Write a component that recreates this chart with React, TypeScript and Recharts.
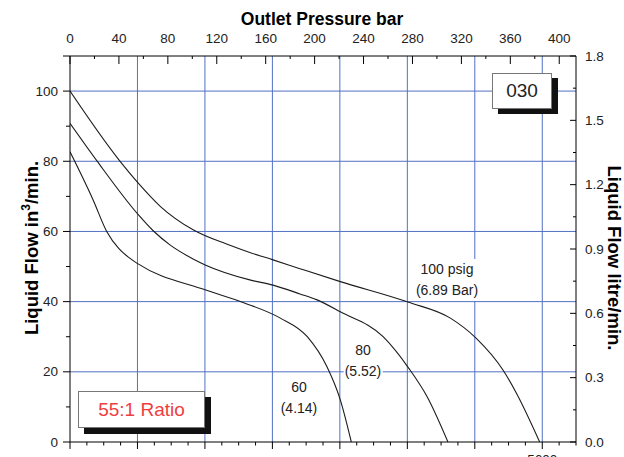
import React from "react";
import { ComposedChart, Line, XAxis, YAxis, ReferenceLine } from "recharts";

const FONT = "'Liberation Sans', Arial, Helvetica, sans-serif";
const W = 624;
const H = 457;
const PLOT = { left: 70, right: 576, top: 56, bottom: 442 };

// axis ticks
const barTicks = [0, 20, 40, 60, 80, 100, 120, 140, 160, 180, 200, 220, 240, 260, 280, 300, 320, 340, 360, 380, 400];
const barLabels = [0, 40, 80, 120, 160, 200, 240, 280, 320, 360, 400];
const psiTicks = [0, 200, 400, 600, 800, 1000, 1200, 1400, 1600, 1800, 2000, 2200, 2400, 2600, 2800, 3000, 3200, 3400, 3600, 3800, 4000, 4200, 4400, 4600, 4800, 5000, 5200, 5400, 5600, 5800, 6000];
const psiGrid = [800, 1600, 2400, 3200, 4000, 4800, 5600];
const psiLabels = [5600];
const flowTicks = [0, 10, 20, 30, 40, 50, 60, 70, 80, 90, 100, 110];
const flowLabels = [0, 20, 40, 60, 80, 100];
const flowGrid = [20, 40, 60, 80, 100];
const litreTicks = [0, 0.15, 0.3, 0.45, 0.6, 0.75, 0.9, 1.05, 1.2, 1.35, 1.5, 1.65, 1.8];
const litreLabels = [0, 0.3, 0.6, 0.9, 1.2, 1.5, 1.8];

// curves: p = outlet pressure (bar), q = liquid flow (in3/min)
const psig100 = [
  { p: 0, q: 100 }, { p: 40, q: 80.4 }, { p: 56, q: 73.7 }, { p: 74, q: 67.1 },
  { p: 101, q: 60.4 }, { p: 128, q: 56.4 }, { p: 147, q: 54.0 }, { p: 166, q: 51.9 },
  { p: 188, q: 49.4 }, { p: 221, q: 45.7 }, { p: 277, q: 39.8 }, { p: 311, q: 35.3 },
  { p: 332, q: 29.6 }, { p: 354, q: 20.5 }, { p: 365, q: 13.9 }, { p: 384, q: 0 },
];
const psig80 = [
  { p: 0, q: 90.8 }, { p: 22, q: 80.1 }, { p: 56, q: 64.7 }, { p: 68, q: 60.2 },
  { p: 82, q: 56.1 }, { p: 101, q: 52.1 }, { p: 111, q: 50.4 }, { p: 147, q: 46.2 },
  { p: 166, q: 44.7 }, { p: 188, q: 42.2 }, { p: 202, q: 40.5 }, { p: 221, q: 37.1 },
  { p: 256, q: 30.0 }, { p: 277, q: 21.0 }, { p: 292, q: 12.9 }, { p: 309, q: 0 },
];
const psig60 = [
  { p: 0, q: 82.7 }, { p: 19, q: 68.9 }, { p: 30, q: 60.0 }, { p: 40, q: 55.1 },
  { p: 48, q: 52.6 }, { p: 55, q: 50.9 }, { p: 111, q: 43.3 }, { p: 142, q: 39.7 },
  { p: 172, q: 35.3 }, { p: 194, q: 30.0 }, { p: 210, q: 21.5 }, { p: 221, q: 12.0 },
  { p: 230, q: 0 },
];

// same 100 psig curve in psi / litre per min, only used to give the second axes a scale
const psig100Metric = psig100.map((d) => ({ psi: d.p * 14.5038, lpm: d.q * 0.016387 }));

const GRID = "#5271c4";
const TICK_TXT = { fontFamily: FONT, fontSize: 13.5, fill: "#222" };

const TopTick = (props: any) => {
  const { x, payload } = props;
  const major = barLabels.includes(payload.value);
  return (
    <g>
      <line x1={x} x2={x} y1={PLOT.top} y2={PLOT.top + (major ? 8 : 3)} stroke="#000" />
      {major && (
        <text x={x} y={43} textAnchor="middle" {...TICK_TXT}>
          {payload.value}
        </text>
      )}
    </g>
  );
};

const BottomTick = (props: any) => {
  const { x, payload } = props;
  const major = payload.value % 800 === 0;
  return (
    <g>
      <line x1={x} x2={x} y1={PLOT.bottom} y2={PLOT.bottom + (major ? 7 : 3.5)} stroke="#000" />
      {psiLabels.includes(payload.value) && (
        <text x={x} y={464} textAnchor="middle" {...TICK_TXT}>
          {payload.value}
        </text>
      )}
    </g>
  );
};

const LeftTick = (props: any) => {
  const { y, payload } = props;
  const major = flowLabels.includes(payload.value) || payload.value === 110;
  return (
    <g>
      <line x1={PLOT.left - (major ? 7 : 4)} x2={PLOT.left} y1={y} y2={y} stroke="#000" />
      {flowLabels.includes(payload.value) && (
        <text x={58} y={y} textAnchor="end" dominantBaseline="central" {...TICK_TXT}>
          {payload.value}
        </text>
      )}
    </g>
  );
};

const RightTick = (props: any) => {
  const { y, payload } = props;
  const major = litreLabels.includes(payload.value);
  return (
    <g>
      <line x1={PLOT.right - (major ? 6 : 3)} x2={PLOT.right} y1={y} y2={y} stroke="#000" />
      {major && (
        <text x={585} y={y} textAnchor="start" dominantBaseline="central" {...TICK_TXT}>
          {payload.value.toFixed(1)}
        </text>
      )}
    </g>
  );
};

const abs = (s: React.CSSProperties): React.CSSProperties => ({ position: "absolute", ...s });

export default function App() {
  return (
    <div style={{ position: "absolute", left: 0, top: 0, width: W, height: H, background: "#fff", fontFamily: FONT }}>
      <ComposedChart width={W} height={H} margin={{ top: 0, right: 0, bottom: 0, left: 0 }}>
        <XAxis
          xAxisId="bar"
          orientation="top"
          type="number"
          dataKey="p"
          domain={[0, 413.7]}
          allowDataOverflow
          ticks={barTicks}
          interval={0}
          height={PLOT.top}
          axisLine={{ stroke: "#000" }}
          tickLine={false}
          tick={<TopTick />}
        />
        <XAxis
          xAxisId="psi"
          orientation="bottom"
          type="number"
          dataKey="psi"
          domain={[0, 6000]}
          allowDataOverflow
          ticks={psiTicks}
          interval={0}
          height={H - PLOT.bottom}
          axisLine={{ stroke: "#000" }}
          tickLine={false}
          tick={<BottomTick />}
        />
        <YAxis
          yAxisId="left"
          orientation="left"
          type="number"
          domain={[0, 110]}
          allowDataOverflow
          ticks={flowTicks}
          interval={0}
          width={PLOT.left}
          axisLine={{ stroke: "#000" }}
          tickLine={false}
          tick={<LeftTick />}
        />
        <YAxis
          yAxisId="right"
          orientation="right"
          type="number"
          domain={[0, 1.8]}
          allowDataOverflow
          ticks={litreTicks}
          interval={0}
          width={W - PLOT.right}
          axisLine={{ stroke: "#000" }}
          tickLine={false}
          tick={<RightTick />}
        />

        {psiGrid.map((v) => (
          <ReferenceLine key={"x" + v} xAxisId="psi" yAxisId="left" x={v} stroke={GRID} strokeWidth={1} />
        ))}
        {flowGrid.map((v) => (
          <ReferenceLine key={"y" + v} xAxisId="psi" yAxisId="left" y={v} stroke={GRID} strokeWidth={1} />
        ))}

        <Line
          xAxisId="psi"
          yAxisId="right"
          data={psig100Metric}
          dataKey="lpm"
          type="monotone"
          stroke="none"
          dot={false}
          activeDot={false}
          isAnimationActive={false}
        />

        {[psig100, psig80, psig60].map((d, i) => (
          <Line
            key={i}
            xAxisId="bar"
            yAxisId="left"
            data={d}
            dataKey="q"
            type="monotone"
            stroke="#1c1c1c"
            strokeWidth={1.1}
            dot={false}
            activeDot={false}
            isAnimationActive={false}
          />
        ))}
      </ComposedChart>

      {/* axis titles */}
      <div style={abs({ left: 322, top: 19, transform: "translate(-50%,-50%)", fontSize: 17.5, fontWeight: "bold", whiteSpace: "nowrap" })}>
        Outlet Pressure bar
      </div>
      <div style={abs({ left: 31, top: 248, transform: "translate(-50%,-50%) rotate(-90deg)", fontSize: 18.5, fontWeight: "bold", whiteSpace: "nowrap" })}>
        Liquid Flow in<sup style={{ fontSize: 12 }}>3</sup>/min.
      </div>
      <div style={abs({ left: 614, top: 258, transform: "translate(-50%,-50%) rotate(90deg)", fontSize: 18.5, fontWeight: "bold", whiteSpace: "nowrap" })}>
        Liquid Flow litre/min.
      </div>

      {/* curve labels */}
      <div style={abs({ left: 447, top: 280, transform: "translate(-50%,-50%)", fontSize: 14, lineHeight: "21px", textAlign: "center", background: "#fff", color: "#222", whiteSpace: "nowrap", padding: "0 1px" })}>
        100 psig<br />(6.89 Bar)
      </div>
      <div style={abs({ left: 363, top: 361, transform: "translate(-50%,-50%)", fontSize: 14, lineHeight: "21px", textAlign: "center", background: "#fff", color: "#222", whiteSpace: "nowrap", padding: "0 1px" })}>
        80<br />(5.52)
      </div>
      <div style={abs({ left: 299, top: 398, transform: "translate(-50%,-50%)", fontSize: 14, lineHeight: "21px", textAlign: "center", background: "#fff", color: "#222", whiteSpace: "nowrap", padding: "0 1px" })}>
        60<br />(4.14)
      </div>

      {/* boxed notes */}
      <div style={abs({ left: 492, top: 73, width: 60, height: 36, background: "#fff", border: "1px solid #777", boxShadow: "6px 5px 0 #111", fontSize: 19, color: "#222", display: "flex", alignItems: "center", justifyContent: "center", boxSizing: "border-box" })}>
        030
      </div>
      <div style={abs({ left: 78, top: 391, width: 127, height: 37, background: "#fff", border: "1px solid #777", boxShadow: "6px 6px 0 #111", fontSize: 19, color: "#ee3e3e", display: "flex", alignItems: "center", justifyContent: "center", boxSizing: "border-box" })}>
        55:1 Ratio
      </div>
    </div>
  );
}
